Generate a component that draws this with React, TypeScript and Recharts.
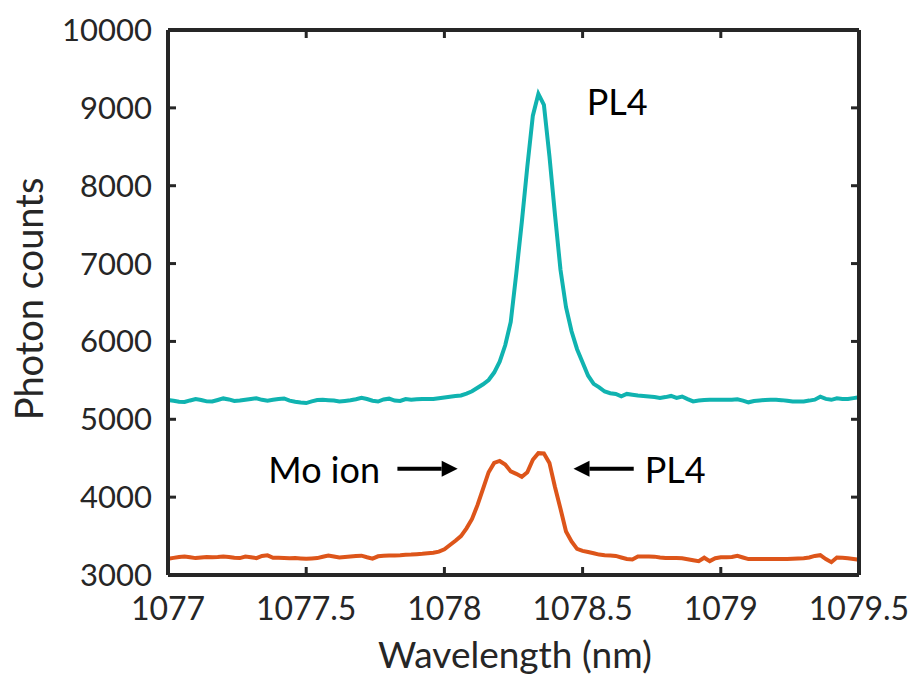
import React from 'react'
import {
  LineChart,
  Line,
  XAxis,
  YAxis,
  ReferenceLine,
  ReferenceDot,
} from 'recharts'

// wavelength grid (nm), 0.02 nm steps
const wavelength = [
  1077.00, 1077.02, 1077.04, 1077.06, 1077.08, 1077.10, 1077.12, 1077.14, 1077.16, 1077.18,
  1077.20, 1077.22, 1077.24, 1077.26, 1077.28, 1077.30, 1077.32, 1077.34, 1077.36, 1077.38,
  1077.40, 1077.42, 1077.44, 1077.46, 1077.48, 1077.50, 1077.52, 1077.54, 1077.56, 1077.58,
  1077.60, 1077.62, 1077.64, 1077.66, 1077.68, 1077.70, 1077.72, 1077.74, 1077.76, 1077.78,
  1077.80, 1077.82, 1077.84, 1077.86, 1077.88, 1077.90, 1077.92, 1077.94, 1077.96, 1077.98,
  1078.00, 1078.02, 1078.04, 1078.06, 1078.08, 1078.10, 1078.12, 1078.14, 1078.16, 1078.18,
  1078.20, 1078.22, 1078.24, 1078.26, 1078.28, 1078.30, 1078.32, 1078.34, 1078.36, 1078.38,
  1078.40, 1078.42, 1078.44, 1078.46, 1078.48, 1078.50, 1078.52, 1078.54, 1078.56, 1078.58,
  1078.60, 1078.62, 1078.64, 1078.66, 1078.68, 1078.70, 1078.72, 1078.74, 1078.76, 1078.78,
  1078.80, 1078.82, 1078.84, 1078.86, 1078.88, 1078.90, 1078.92, 1078.94, 1078.96, 1078.98,
  1079.00, 1079.02, 1079.04, 1079.06, 1079.08, 1079.10, 1079.12, 1079.14, 1079.16, 1079.18,
  1079.20, 1079.22, 1079.24, 1079.26, 1079.28, 1079.30, 1079.32, 1079.34, 1079.36, 1079.38,
  1079.40, 1079.42, 1079.44, 1079.46, 1079.48, 1079.50,
]

// PL4 emission alone (upper trace)
const pl4Counts = [
  5249, 5238, 5226, 5222, 5242, 5260, 5248, 5230, 5228, 5248,
  5268, 5255, 5235, 5240, 5250, 5260, 5270, 5250, 5238, 5250,
  5260, 5268, 5240, 5225, 5215, 5208, 5230, 5248, 5250, 5246,
  5240, 5228, 5236, 5245, 5258, 5276, 5260, 5238, 5228, 5255,
  5265, 5240, 5235, 5260, 5252, 5256, 5260, 5262, 5260, 5270,
  5280, 5290, 5298, 5306, 5330, 5360, 5405, 5450, 5505, 5600,
  5740, 5950, 6250, 6870, 7530, 8245, 8900, 9180, 9040, 8380,
  7630, 6920, 6440, 6130, 5900, 5730, 5560, 5455, 5410, 5357,
  5335, 5326, 5295, 5326, 5315, 5305, 5298, 5292, 5285, 5275,
  5285, 5300, 5275, 5292, 5260, 5230, 5240, 5248, 5250, 5250,
  5250, 5250, 5250, 5258, 5240, 5218, 5235, 5242, 5248, 5250,
  5250, 5246, 5238, 5228, 5228, 5230, 5240, 5252, 5290, 5262,
  5250, 5270, 5262, 5260, 5272, 5283,
]

// PL4 together with the Mo ion line (lower trace)
const moIonCounts = [
  3208, 3220, 3232, 3238, 3228, 3217, 3225, 3232, 3228, 3232,
  3238, 3232, 3222, 3217, 3236, 3228, 3217, 3245, 3252, 3220,
  3220, 3218, 3216, 3217, 3212, 3208, 3212, 3217, 3235, 3250,
  3238, 3226, 3232, 3238, 3245, 3248, 3228, 3210, 3240, 3248,
  3250, 3251, 3254, 3259, 3262, 3268, 3272, 3278, 3285, 3300,
  3330, 3385, 3440, 3500, 3600, 3720, 3900, 4110, 4320, 4440,
  4465, 4420, 4330, 4300, 4262, 4320, 4480, 4565, 4560, 4440,
  4130, 3850, 3560, 3430, 3335, 3310, 3295, 3280, 3262, 3255,
  3250, 3245, 3225, 3205, 3200, 3238, 3238, 3238, 3236, 3225,
  3217, 3217, 3217, 3215, 3202, 3190, 3178, 3222, 3178, 3215,
  3229, 3229, 3232, 3247, 3225, 3204, 3204, 3204, 3204, 3204,
  3204, 3204, 3205, 3208, 3212, 3216, 3225, 3245, 3255, 3205,
  3165, 3225, 3222, 3215, 3205, 3195,
]

const xTicks = [1077, 1077.5, 1078, 1078.5, 1079, 1079.5]
const yTicks = [3000, 4000, 5000, 6000, 7000, 8000, 9000, 10000]

const data = wavelength.map((w, i) => ({
  wavelength: w,
  pl4: pl4Counts[i],
  moIon: moIonCounts[i],
}))

const AXIS = '#262626'
const TEAL = '#10b3b0'
const ORANGE = '#dd551a'
const FONT = 'Lato, "Open Sans", sans-serif'

const TICK_LEN = 8
const X_GAP = 22
const Y_GAP = 16
const axisLine = { stroke: AXIS, strokeWidth: 4 }

// matlab-style ticks pointing into the box, label outside
const BottomTick = (props: any) => {
  const { x, y, payload } = props
  const axisY = y - X_GAP
  return (
    <g>
      <line x1={x} x2={x} y1={axisY} y2={axisY - TICK_LEN} stroke={AXIS} strokeWidth={3} />
      <text x={x} y={y} dy="0.71em" textAnchor="middle" fontSize={32} fill={AXIS} fontFamily={FONT}>
        {payload.value}
      </text>
    </g>
  )
}

const TopTick = (props: any) => {
  const { x, y } = props
  return <line x1={x} x2={x} y1={y} y2={y + TICK_LEN} stroke={AXIS} strokeWidth={3} />
}

const LeftTick = (props: any) => {
  const { x, y, payload } = props
  const axisX = x + Y_GAP
  return (
    <g>
      <line x1={axisX} x2={axisX + TICK_LEN} y1={y} y2={y} stroke={AXIS} strokeWidth={3} />
      <text x={x} y={y} dy="0.355em" textAnchor="end" fontSize={31} fill={AXIS} fontFamily={FONT}>
        {payload.value}
      </text>
    </g>
  )
}

const RightTick = (props: any) => {
  const { x, y } = props
  return <line x1={x} x2={x - TICK_LEN} y1={y} y2={y} stroke={AXIS} strokeWidth={3} />
}

// horizontal arrow: line plus a filled head at the (x2, y2) end
const Arrow = (props: any) => {
  const { x1, y1, x2, y2 } = props
  const dir = x2 > x1 ? 1 : -1
  const head = 16
  return (
    <g>
      <line x1={x1} y1={y1} x2={x2 - dir * head} y2={y2} stroke="#000" strokeWidth={4} />
      <polygon
        points={`${x2},${y2} ${x2 - dir * head},${y2 - 8} ${x2 - dir * head},${y2 + 8}`}
        fill="#000"
      />
    </g>
  )
}

const annotationLabel = (text: string) => ({
  value: text,
  position: 'center' as const,
  fontSize: 36,
  fill: '#000',
  fontFamily: FONT,
})

export default function App() {
  return (
    <div style={{ position: 'absolute', left: 0, top: 0, width: 912, height: 676, background: '#fff' }}>
      <LineChart width={912} height={676} data={data} margin={{ top: 29, right: 0, bottom: 0, left: 0 }}>
        <XAxis
          xAxisId="bottom"
          dataKey="wavelength"
          type="number"
          domain={[1077, 1079.5]}
          ticks={xTicks}
          height={101}
          axisLine={axisLine}
          tickLine={false}
          tickSize={0}
          tickMargin={X_GAP}
          tick={<BottomTick />}
          label={{
            content: () => (
              <text x={515} y={668} textAnchor="middle" fontSize={37} fill={AXIS} fontFamily={FONT}>
                Wavelength (nm)
              </text>
            ),
          }}
        />
        <XAxis
          xAxisId="top"
          orientation="top"
          dataKey="wavelength"
          type="number"
          domain={[1077, 1079.5]}
          ticks={xTicks}
          height={1}
          axisLine={axisLine}
          tickLine={false}
          tickSize={0}
          tickMargin={0}
          tick={<TopTick />}
        />
        <YAxis
          yAxisId="left"
          type="number"
          domain={[3000, 10000]}
          ticks={yTicks}
          width={168}
          axisLine={axisLine}
          tickLine={false}
          tickSize={0}
          tickMargin={Y_GAP}
          tick={<LeftTick />}
          label={{
            content: () => (
              <text
                x={0}
                y={0}
                transform="translate(43 299) rotate(-90)"
                textAnchor="middle"
                fontSize={38}
                fill={AXIS}
                fontFamily={FONT}
              >
                Photon counts
              </text>
            ),
          }}
        />
        <YAxis
          yAxisId="right"
          orientation="right"
          type="number"
          domain={[3000, 10000]}
          ticks={yTicks}
          width={53}
          axisLine={axisLine}
          tickLine={false}
          tickSize={0}
          tickMargin={0}
          tick={<RightTick />}
          allowDataOverflow
        />
        <Line
          xAxisId="bottom"
          yAxisId="left"
          type="linear"
          dataKey="pl4"
          stroke={TEAL}
          strokeWidth={4}
          dot={false}
          isAnimationActive={false}
        />
        <Line
          xAxisId="bottom"
          yAxisId="left"
          type="linear"
          dataKey="moIon"
          stroke={ORANGE}
          strokeWidth={4}
          dot={false}
          isAnimationActive={false}
        />
        <ReferenceLine
          xAxisId="bottom"
          yAxisId="left"
          segment={[{ x: 1077.83, y: 4365 }, { x: 1078.048, y: 4365 }]}
          shape={Arrow}
        />
        <ReferenceLine
          xAxisId="bottom"
          yAxisId="left"
          segment={[{ x: 1078.685, y: 4365 }, { x: 1078.467, y: 4365 }]}
          shape={Arrow}
        />
        <ReferenceDot xAxisId="bottom" yAxisId="left" x={1077.565} y={4350} r={0} stroke="none" fill="none" label={annotationLabel('Mo ion')} />
        <ReferenceDot xAxisId="bottom" yAxisId="left" x={1078.835} y={4350} r={0} stroke="none" fill="none" label={annotationLabel('PL4')} />
        <ReferenceDot xAxisId="bottom" yAxisId="left" x={1078.625} y={9075} r={0} stroke="none" fill="none" label={annotationLabel('PL4')} />
      </LineChart>
    </div>
  )
}
